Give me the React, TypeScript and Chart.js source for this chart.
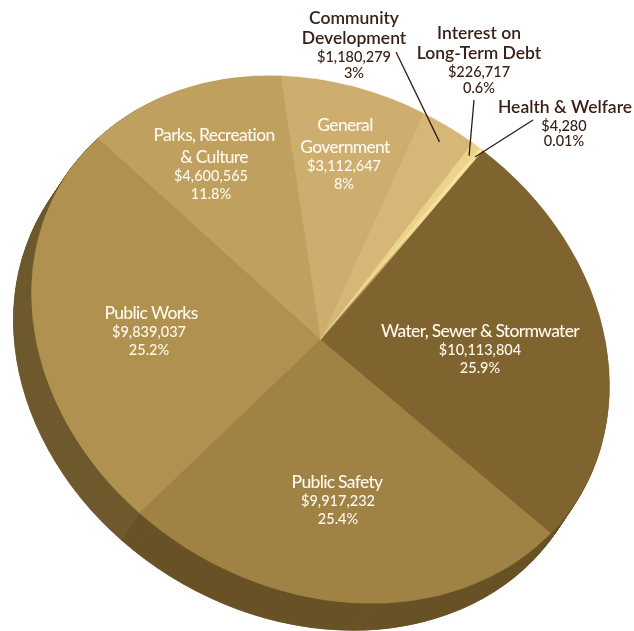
import React, { useEffect, useRef } from "react";
import { Chart, registerables } from "chart.js";

Chart.register(...registerables);

const categories = ["Water, Sewer & Stormwater", "Public Safety", "Public Works", "Parks, Recreation & Culture", "General Government", "Community Development", "Interest on Long-Term Debt", "Health & Welfare"];
const amounts = [10113804, 9917232, 9839037, 4600565, 3112647, 1180279, 226717, 4280];
const amountLabels = ["$10,113,804", "$9,917,232", "$9,839,037", "$4,600,565", "$3,112,647", "$1,180,279", "$226,717", "$4,280"];
const shareLabels = ["25.9%", "25.4%", "25.2%", "11.8%", "8%", "3%", "0.6%", "0.01%"];
const faceColors = ["#806430", "#9F8244", "#B09150", "#BFA05F", "#CDAE6F", "#D7B778", "#EDD28B", "#F8E49E"];
const rimColors = ["#6A5428", "#695326", "#6F5A2E", "#6F5A2E", "#6F5A2E", "#6F5A2E", "#6F5A2E", "#6F5A2E"];
const sliceBorders = [0.5, 0.5, 0.5, 0.5, 0.5, 0.5, 0.5, 3.6];

const W = 634, H = 631;
const whiteText = { color: "#FFF8EC", nameFont: "500 17.5px Lato", spacing: "-0.7px", nameStep: 22, valGap: 19, valStep: 18 };
const darkText = { color: "#3A2118", nameFont: "600 17.5px Lato", spacing: "0px", nameStep: 20.5, valGap: 19, valStep: 15.5 };
const labels = [
  { x: 480, vx: 480, y: 331, look: whiteText, lines: ["Water, Sewer & Stormwater"], i: 0 },
  { x: 337, vx: 338, y: 482, look: whiteText, lines: ["Public Safety"], i: 1 },
  { x: 151, vx: 149, y: 313, look: whiteText, lines: ["Public Works"], i: 2 },
  { x: 214, vx: 211, y: 135, look: whiteText, lines: ["Parks, Recreation", "& Culture"], i: 3 },
  { x: 345, vx: 344, y: 125, look: whiteText, lines: ["General", "Government"], i: 4 },
  { x: 354, vx: 354, y: 18, look: darkText, lines: ["Community", "Development"], i: 5 },
  { x: 479, vx: 479, y: 33, look: darkText, lines: ["Interest on", "Long-Term Debt"], i: 6 },
  { x: 565, vx: 564, y: 107, look: darkText, lines: ["Health & Welfare"], i: 7 },
];
const leaders = [
  { i: 5, x: 396, y: 52, frac: 0.93 },
  { i: 6, x: 474, y: 100, frac: 0.95 },
  { i: 7, x: 533, y: 120, frac: 0.96 },
];

// Ellipse: image of the chart's circle
const face = { cx: 320.5, cy: 339.5, ux: 161, uy: -190, vx: 240, vy: 183 };
const rim = { dx: -18, dy: 27, steps: 30 };

const mapPt = (chart: any, px: number, py: number) => {
  const a = chart.chartArea;
  const c0x = (a.left + a.right) / 2, c0y = (a.top + a.bottom) / 2;
  const R = chart.getDatasetMeta(0).data[0].outerRadius;
  const X = (px - c0x) / R, Y = (py - c0y) / R;
  return { x: face.cx + X * face.ux + Y * face.vx, y: face.cy + X * face.uy + Y * face.vy };
};

const applyFace = (chart: any, ctx: CanvasRenderingContext2D, ox = 0, oy = 0) => {
  const a = chart.chartArea;
  const c0x = (a.left + a.right) / 2, c0y = (a.top + a.bottom) / 2;
  const R = chart.getDatasetMeta(0).data[0].outerRadius;
  ctx.translate(face.cx + ox, face.cy + oy);
  ctx.transform(face.ux / R, face.uy / R, face.vx / R, face.vy / R, 0, 0);
  ctx.translate(-c0x, -c0y);
};

// The thinnest slice's outline fades toward the pie's centre, so it reads as a narrow wedge.
const sliceOutline = (c: any) => {
  const color = faceColors[c.dataIndex];
  const area = c.chart.chartArea;
  if (c.dataIndex !== faceColors.length - 1 || !area) return color;
  const mx = (area.left + area.right) / 2, my = (area.top + area.bottom) / 2;
  const r = Math.min(area.right - area.left, area.bottom - area.top) / 2;
  const g = c.chart.ctx.createRadialGradient(mx, my, 0, mx, my, r);
  g.addColorStop(0, "rgba(248,228,158,0)");
  g.addColorStop(0.15, "rgba(248,228,158,0.15)");
  g.addColorStop(0.6, "rgba(248,228,158,0.9)");
  g.addColorStop(1, color);
  return g;
};

const pieLook = {
  id: "pieLook",
  beforeDatasetsDraw(chart: any) {
    const ctx = chart.ctx;
    const arcs = chart.getDatasetMeta(0).data;
    for (let s = rim.steps; s >= 1; s--) {
      ctx.save();
      applyFace(chart, ctx, (rim.dx * s) / rim.steps, (rim.dy * s) / rim.steps);
      arcs.forEach((arc: any, i: number) => {
        const o = arc.options;
        arc.options = { ...o, backgroundColor: rimColors[i], borderColor: rimColors[i], borderWidth: 1 };
        arc.draw(ctx);
        arc.options = o;
      });
      ctx.restore();
    }
    ctx.save();
    applyFace(chart, ctx);
  },
  afterDatasetsDraw(chart: any) {
    const ctx = chart.ctx;
    ctx.restore();
    const arcs = chart.getDatasetMeta(0).data;
    ctx.save();
    ctx.strokeStyle = "#2E1A14";
    ctx.lineWidth = 1.3;
    leaders.forEach((l) => {
      const arc = arcs[l.i];
      const m = (arc.startAngle + arc.endAngle) / 2;
      const r = arc.outerRadius * l.frac;
      const p = mapPt(chart, arc.x + Math.cos(m) * r, arc.y + Math.sin(m) * r);
      ctx.beginPath();
      ctx.moveTo(l.x, l.y);
      ctx.lineTo(p.x, p.y);
      ctx.stroke();
    });
    ctx.textAlign = "center";
    ctx.textBaseline = "middle";
    labels.forEach((lab) => {
      const look = lab.look;
      ctx.fillStyle = look.color;
      let y = lab.y;
      (ctx as any).letterSpacing = look.spacing;
      ctx.font = look.nameFont;
      lab.lines.forEach((t, k) => {
        if (k > 0) y += look.nameStep;
        ctx.fillText(t, lab.x, y);
      });
      y += look.valGap;
      (ctx as any).letterSpacing = "0px";
      ctx.font = "500 14.5px Lato";
      ctx.fillText(amountLabels[lab.i], lab.vx, y);
      y += look.valStep;
      ctx.fillText(shareLabels[lab.i], lab.vx, y);
    });
    ctx.restore();
  },
};

export default function App() {
  const ref = useRef<HTMLCanvasElement>(null);
  useEffect(() => {
    const chart = new Chart(ref.current!, {
      type: "pie",
      data: {
        labels: categories,
        datasets: [{
          data: amounts,
          backgroundColor: faceColors,
          borderColor: sliceOutline,
          borderWidth: sliceBorders,
          clip: false,
        } as any],
      },
      options: {
        animation: false,
        responsive: false,
        rotation: 90,
        devicePixelRatio: 1,
        layout: { padding: 10 },
        plugins: { legend: { display: false }, title: { display: false }, tooltip: { enabled: false } },
      },
      plugins: [pieLook],
    });
    return () => chart.destroy();
  }, []);
  return (
    <div style={{ position: "absolute", left: 0, top: 0, width: W, height: H, background: "#fff" }}>
      <canvas ref={ref} width={W} height={H} style={{ display: "block" }} />
    </div>
  );
}
